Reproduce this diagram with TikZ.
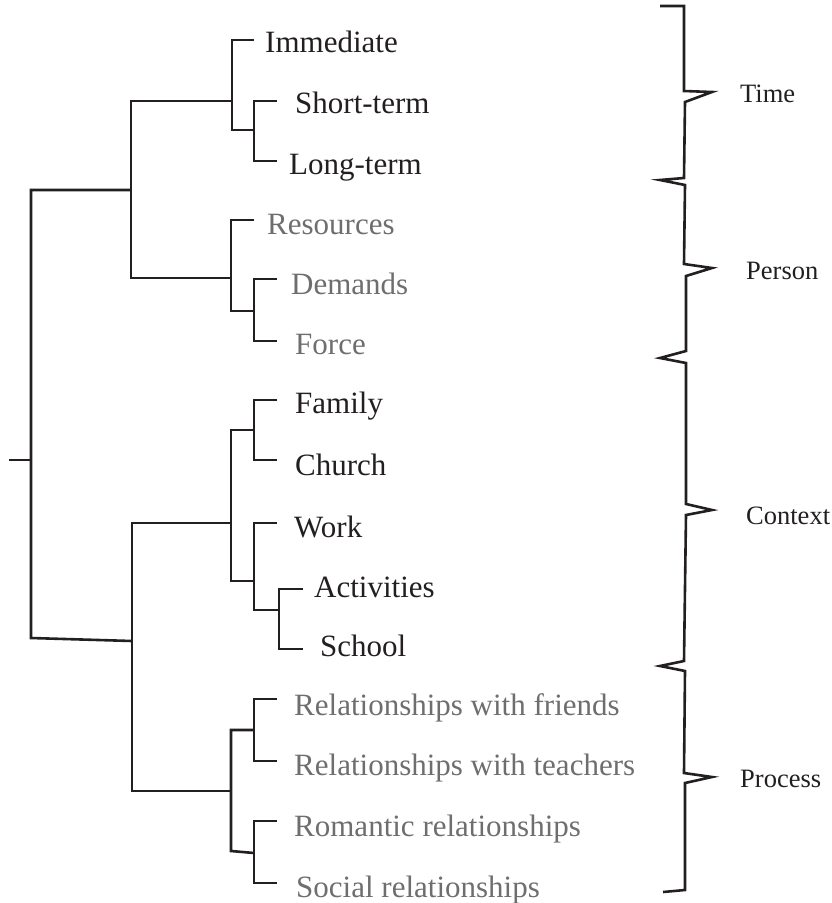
\documentclass[tikz,border=0pt]{standalone}
\usepackage{fontspec}
\setmainfont{Liberation Serif}
\usepackage{tikz}
\definecolor{inkdark}{RGB}{35,31,32}
\definecolor{inkgrey}{RGB}{110,110,112}
\begin{document}
\begin{tikzpicture}[x=1pt,y=-1pt,
    branch/.style={draw=inkdark,line width=2.6pt,line join=miter},
    leaf/.style={anchor=base west,inner sep=0pt,text=inkdark,font=\fontsize{31}{31}\selectfont},
    greyleaf/.style={leaf,text=inkgrey},
    facet/.style={anchor=base west,inner sep=0pt,text=inkdark,font=\fontsize{26.5}{26.5}\selectfont}]
  \useasboundingbox (0,0) rectangle (831,903);
      \draw (265,52) node[leaf] (immediate) {Immediate};
      \draw (295,113) node[leaf] (shortterm) {Short-term};
  \draw (289,174) node[leaf] (longterm) {Long-term};
      \draw (267,234) node[greyleaf] (resources) {Resources};
      \draw (291,294) node[greyleaf] (demands) {Demands};
  \draw (295,354) node[greyleaf] (force) {Force};
      \draw (295,413) node[leaf] (family) {Family};
      \draw (295,475) node[leaf] (church) {Church};
      \draw (294,537) node[leaf] (work) {Work};
  \draw (314,597) node[leaf] (activities) {Activities};
  \draw (320,656) node[leaf] (school) {School};
      \draw (294,715) node[greyleaf] (friends) {Relationships with friends};
      \draw (294,775) node[greyleaf] (teachers) {Relationships with teachers};
  \draw (294,836) node[greyleaf] (romantic) {Romantic relationships};
  \draw (296,897) node[greyleaf] (social) {Social relationships};
%%%%%%%%%%%%%%%%%%%%%%%%%%%%%%%%%%%%%%%%%%%%%%%%%%%%%%%%%%%%%%%%%%%%%%%
      \coordinate (stub) at (9,460);
      \coordinate (root) at (31,460);
      \coordinate (rootup) at (31,190);
  \coordinate (rootdown) at (31,638);
      \coordinate (upper) at (131,190);
      \coordinate (lower) at (132,641);
      \coordinate (time) at (232,101);
      \coordinate (person) at (231,278);
  \coordinate (context) at (231,523);
  \coordinate (process) at (231,791);
      \coordinate (timepair) at (254,130);
      \coordinate (personpair) at (254,311);
      \coordinate (homepair) at (254,430);
      \coordinate (workgroup) at (254,581);
      \coordinate (schoolpair) at (279,610);
  \coordinate (teacherpair) at (254,730);
  \coordinate (lovepair) at (254,853);
      \coordinate (immediatetip) at (254,40);
      \coordinate (shorttip) at (277,101);
      \coordinate (longtip) at (277,161);
      \coordinate (resourcestip) at (254,220);
      \coordinate (demandstip) at (277,279);
      \coordinate (forcetip) at (277,341);
      \coordinate (familytip) at (277,400);
      \coordinate (churchtip) at (277,460);
      \coordinate (worktip) at (277,523);
      \coordinate (activitiestip) at (303,589);
      \coordinate (schooltip) at (303,649);
      \coordinate (friendstip) at (277,699);
      \coordinate (teacherstip) at (277,761);
      \coordinate (romantictip) at (277,821);
      \coordinate (socialtip) at (277,883);
%%%%%%%%%%%%%%%%%%%%%%%%%%%%%%%%%%%%%%%%%%%%%%%%%%%%%%%%%%%%%%%%%%%%%%%
      \draw[branch] (stub) -- (root);
      \draw[branch] (upper) -- (rootup) -- (rootdown) -- (lower);
      \draw[branch] (time) -| (upper) |- (person);
      \draw[branch] (context) -| (lower) |- (process);
  \draw[branch] (immediatetip) -| (time) |- (timepair);
  \draw[branch] (shorttip) -| (timepair) |- (longtip);
  \draw[branch] (resourcestip) -| (person) |- (personpair);
  \draw[branch] (demandstip) -| (personpair) |- (forcetip);
      \draw[branch] (homepair) -| (context) |- (workgroup);
      \draw[branch] (familytip) -| (homepair) |- (churchtip);
      \draw[branch] (worktip) -| (workgroup) |- (schoolpair);
      \draw[branch] (activitiestip) -| (schoolpair) |- (schooltip);
  \draw[branch] (teacherpair) -| (process) -- (231,851) -- (lovepair);
  \draw[branch] (friendstip) -| (teacherpair) |- (teacherstip);
  \draw[branch] (romantictip) -| (lovepair) |- (socialtip);
%%%%%%%%%%%%%%%%%%%%%%%%%%%%%%%%%%%%%%%%%%%%%%%%%%%%%%%%%%%%%%%%%%%%%%%
      \draw (740,102) node[facet] (timelabel) {Time};
      \draw (746,279) node[facet] (personlabel) {Person};
  \draw (746,524) node[facet] (contextlabel) {Context};
  \draw (740,787) node[facet] (processlabel) {Process};
      \draw[branch] (660,6) -- (684,6) -- (684,91) -- (712,92) -- (685,102)
        -- (684,178) -- (660,180) -- (685,185) -- (684,264) -- (712,268)
        -- (686,276) -- (686,351) -- (660,358) -- (686,363) -- (686,504)
        -- (712,510) -- (686,515) -- (684,661) -- (660,666) -- (685,671)
        -- (684,773) -- (712,777) -- (685,783) -- (685,890) -- (663,892);
\end{tikzpicture}
\end{document}
